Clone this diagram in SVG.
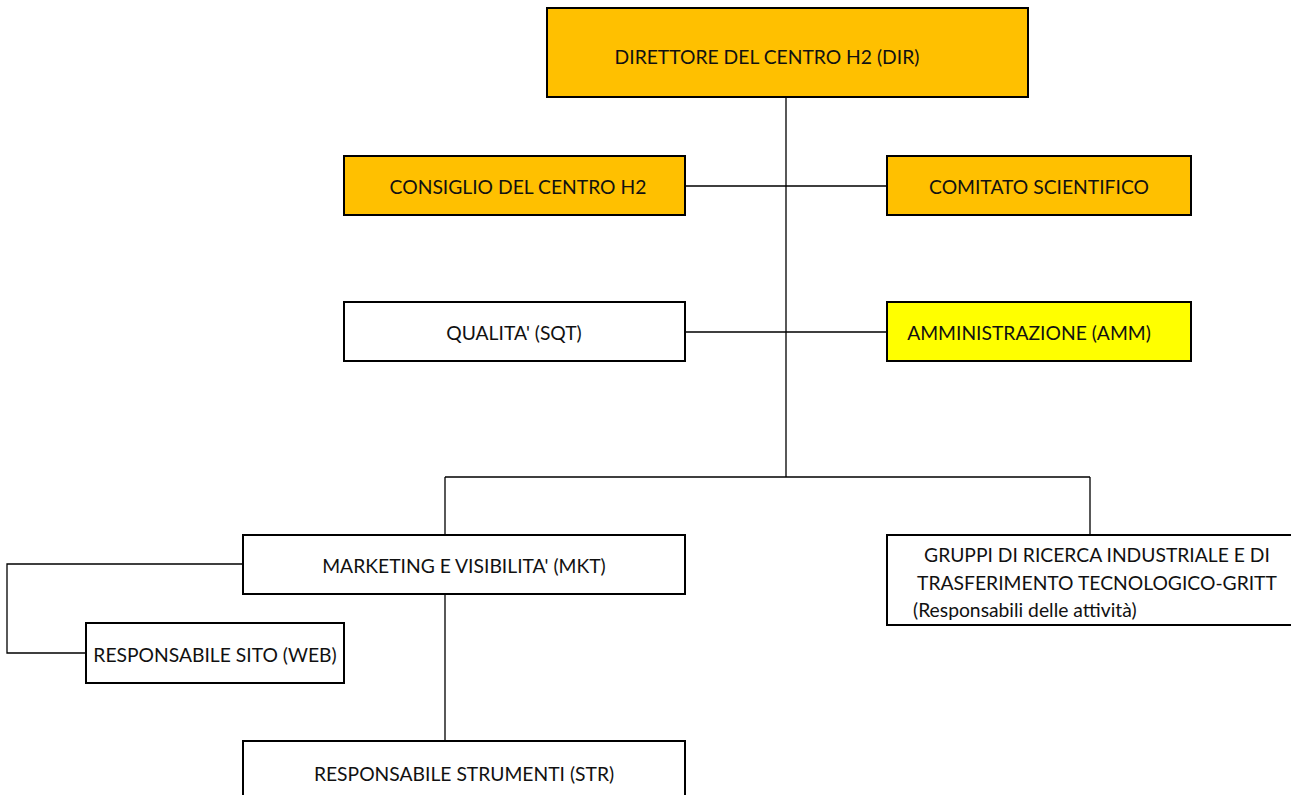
<svg xmlns="http://www.w3.org/2000/svg" width="1291" height="795" viewBox="0 0 1291 795">
<style>
.box{stroke:#000;stroke-width:2}
.o{fill:#FFC000}.y{fill:#FFFF00}.w{fill:#fff}
.c{fill:none;stroke:#000;stroke-width:1.3}
text{font-family:Lato,"Open Sans","Liberation Sans",sans-serif;font-size:19.3px;fill:#111;dominant-baseline:central}
.m{text-anchor:middle}
</style>
<rect width="1291" height="795" fill="#fff"/>
<g id="connectors">
<path class="c" d="M786 97V477M685 186H887M595 332H887M445 477H1090M445 477V535M1090 477V535M445 594V741M243 564H7V653H86"/>
</g>
<g id="dir"><rect class="box o" x="547" y="8" width="481" height="89"/><text class="m" x="767" y="56">DIRETTORE DEL CENTRO H2 (DIR)</text></g>
<g id="consiglio"><rect class="box o" x="344" y="156" width="341" height="59"/><text class="m" x="518" y="186">CONSIGLIO DEL CENTRO H2</text></g>
<g id="comitato"><rect class="box o" x="887" y="156" width="304" height="59"/><text class="m" x="1039" y="186">COMITATO SCIENTIFICO</text></g>
<g id="sqt"><rect class="box w" x="344" y="302" width="341" height="59"/><text class="m" x="514" y="332">QUALITA' (SQT)</text></g>
<g id="amm"><rect class="box y" x="887" y="302" width="304" height="59"/><text class="m" x="1029" y="332">AMMINISTRAZIONE (AMM)</text></g>
<g id="mkt"><rect class="box w" x="243" y="535" width="442" height="59"/><text class="m" x="464" y="565">MARKETING E VISIBILITA' (MKT)</text></g>
<g id="gritt"><path class="box w" d="M1291 535H887V625H1291"/><text class="m" x="1097" y="554">GRUPPI DI RICERCA INDUSTRIALE E DI</text><text class="m" x="1097" y="582">TRASFERIMENTO TECNOLOGICO-GRITT</text><text x="913" y="609">(Responsabili delle attività)</text></g>
<g id="web"><rect class="box w" x="86" y="623" width="258" height="60"/><text class="m" x="215" y="654">RESPONSABILE SITO (WEB)</text></g>
<g id="str"><rect class="box w" x="243" y="741" width="442" height="70"/><text class="m" x="464" y="773">RESPONSABILE STRUMENTI (STR)</text></g>
</svg>
